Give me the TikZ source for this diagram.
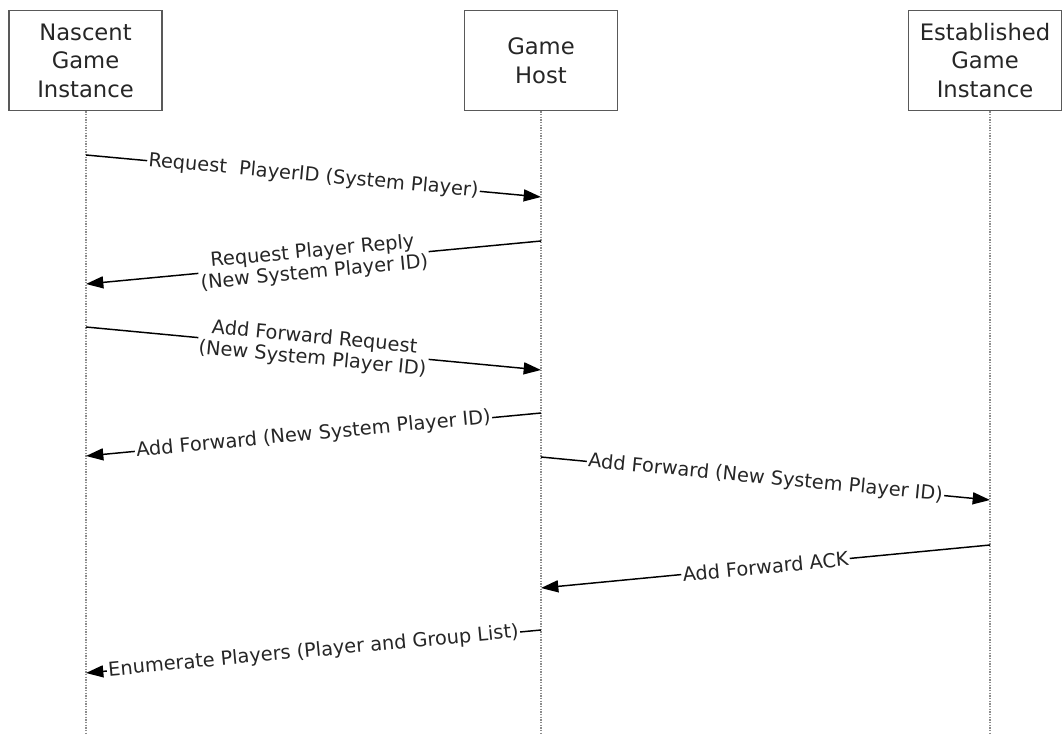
\documentclass[tikz,border=0pt]{standalone}
\usepackage{fontspec}
\setmainfont{DejaVu Sans}
\usetikzlibrary{arrows.meta}
\begin{document}
\begin{tikzpicture}[x=0.75pt,y=-0.75pt,
  actor/.style={draw=black!65, line width=1.2pt, minimum width=114.75pt, minimum height=75pt, align=center, font=\fontsize{17}{21.4}\selectfont, inner sep=0pt, text=black!85},
  life/.style={draw=gray!90, line width=1.5pt, dash pattern=on 1pt off 1pt},
  msg/.style={draw=black, line width=1.1pt, -{Triangle[length=13pt,width=9pt]}},
  lbl/.style={sloped, fill=white, inner sep=1pt, align=center, font=\fontsize{14.5}{16}\selectfont, text=black!85}]
\useasboundingbox (0,0) rectangle (1064,735);
% actors
\node[actor] (n) at (85.5,60.5) {Nascent\\Game\\Instance};
\node[actor] (h) at (541,60.5) {Game\\Host};
\node[actor] (e) at (985,60.5) {Established\\Game\\Instance};
% lifeline ends
\coordinate (nb) at (86,735);
\coordinate (hb) at (541,735);
\coordinate (eb) at (990,735);
\draw[life] (n.south -| nb) -- (nb);
\draw[life] (h.south -| hb) -- (hb);
\draw[life] (e.south -| eb) -- (eb);
% message points
\coordinate (n1) at (86,155);  \coordinate (h1) at (541,197);
\coordinate (h2) at (541,241); \coordinate (n2) at (86,284);
\coordinate (n3) at (86,327);  \coordinate (h3) at (541,370);
\coordinate (h4) at (541,413); \coordinate (n4) at (86,456);
\coordinate (h5) at (541,457); \coordinate (e5) at (990,500);
\coordinate (e6) at (990,545); \coordinate (h6) at (541,588);
\coordinate (h7) at (541,630); \coordinate (n7) at (86,673);
% messages
\draw[msg] (n1) -- node[lbl] {Request~~PlayerID (System Player)} (h1);
\draw[msg] (h2) -- node[lbl] {Request Player Reply\\(New System Player ID)} (n2);
\draw[msg] (n3) -- node[lbl] {Add Forward Request\\(New System Player ID)} (h3);
\draw[msg] (h4) -- node[lbl] {Add Forward (New System Player ID)} (n4);
\draw[msg] (h5) -- node[lbl] {Add Forward (New System Player ID)} (e5);
\draw[msg] (e6) -- node[lbl] {Add Forward ACK} (h6);
\draw[msg] (h7) -- node[lbl] {Enumerate Players (Player and Group List)} (n7);
\end{tikzpicture}
\end{document}
